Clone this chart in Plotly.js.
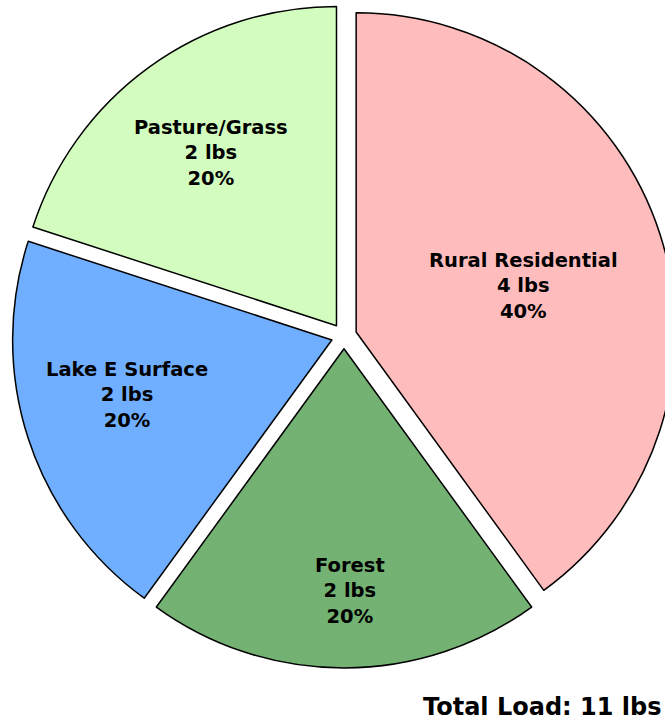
<!DOCTYPE html>
<html>
<head>
<meta charset="utf-8">
<script src="https://cdn.plot.ly/plotly-3.0.1.min.js"></script>
<style>
  html, body { margin: 0; padding: 0; overflow: hidden; background: #fff; }
  #chart { width: 690px; height: 726px; }
</style>
</head>
<body>
<div id="chart"></div>
<script>
// ---- data ----
const categories = ["Rural Residential", "Forest", "Lake E Surface", "Pasture/Grass"];
const loads = [4.4, 2.2, 2.2, 2.2];          // lbs
const totalLoad = 11;                         // lbs
const colors = ["#FFBCBC", "#73B273", "#70AFFF", "#D2FDBF"];

// ---- layout geometry (pixels) ----
const W = 690, H = 726, ML = 12, MR = 14, MT = 4, MB = 58;
const plotW = W - ML - MR, plotH = H - MT - MB;
const px2x = p => (p - ML) / plotW;
const py2y = p => 1 - (p - MT) / plotH;

// label block centres in pixels
const labelPos = [[523, 286], [350, 591], [127, 395], [211, 153]];

const sum = loads.reduce((a, b) => a + b, 0);
const annotations = categories.map((c, i) => ({
  text: c + "<br>" + Math.round(loads[i]) + " lbs<br>" + Math.round(loads[i] / sum * 100) + "%",
  x: px2x(labelPos[i][0]), y: py2y(labelPos[i][1]),
  xref: "paper", yref: "paper", xanchor: "center", yanchor: "middle",
  showarrow: false, align: "center",
  font: { family: "DejaVu Sans", size: 19.5, weight: "bold", color: "#000" }
}));
annotations.push({
  text: "Total Load: " + totalLoad + " lbs",
  x: px2x(663), y: py2y(707), xref: "paper", yref: "paper",
  xanchor: "right", yanchor: "middle", showarrow: false,
  font: { family: "DejaVu Sans", size: 24, weight: "bold", color: "#000" }
});

const trace = {
  type: "pie",
  labels: categories,
  values: loads,
  sort: false,
  direction: "clockwise",
  rotation: 0,
  pull: 0.04,
  textinfo: "none",
  hoverinfo: "label+value+percent",
  marker: { colors: colors, line: { color: "#000", width: 1.5 } },
  showlegend: false
};

Plotly.newPlot("chart", [trace], {
  width: W, height: H,
  margin: { l: ML, r: MR, t: MT, b: MB, pad: 0 },
  paper_bgcolor: "#fff", plot_bgcolor: "#fff",
  showlegend: false,
  annotations: annotations
}, { displayModeBar: false, staticPlot: true });
</script>
</body>
</html>
